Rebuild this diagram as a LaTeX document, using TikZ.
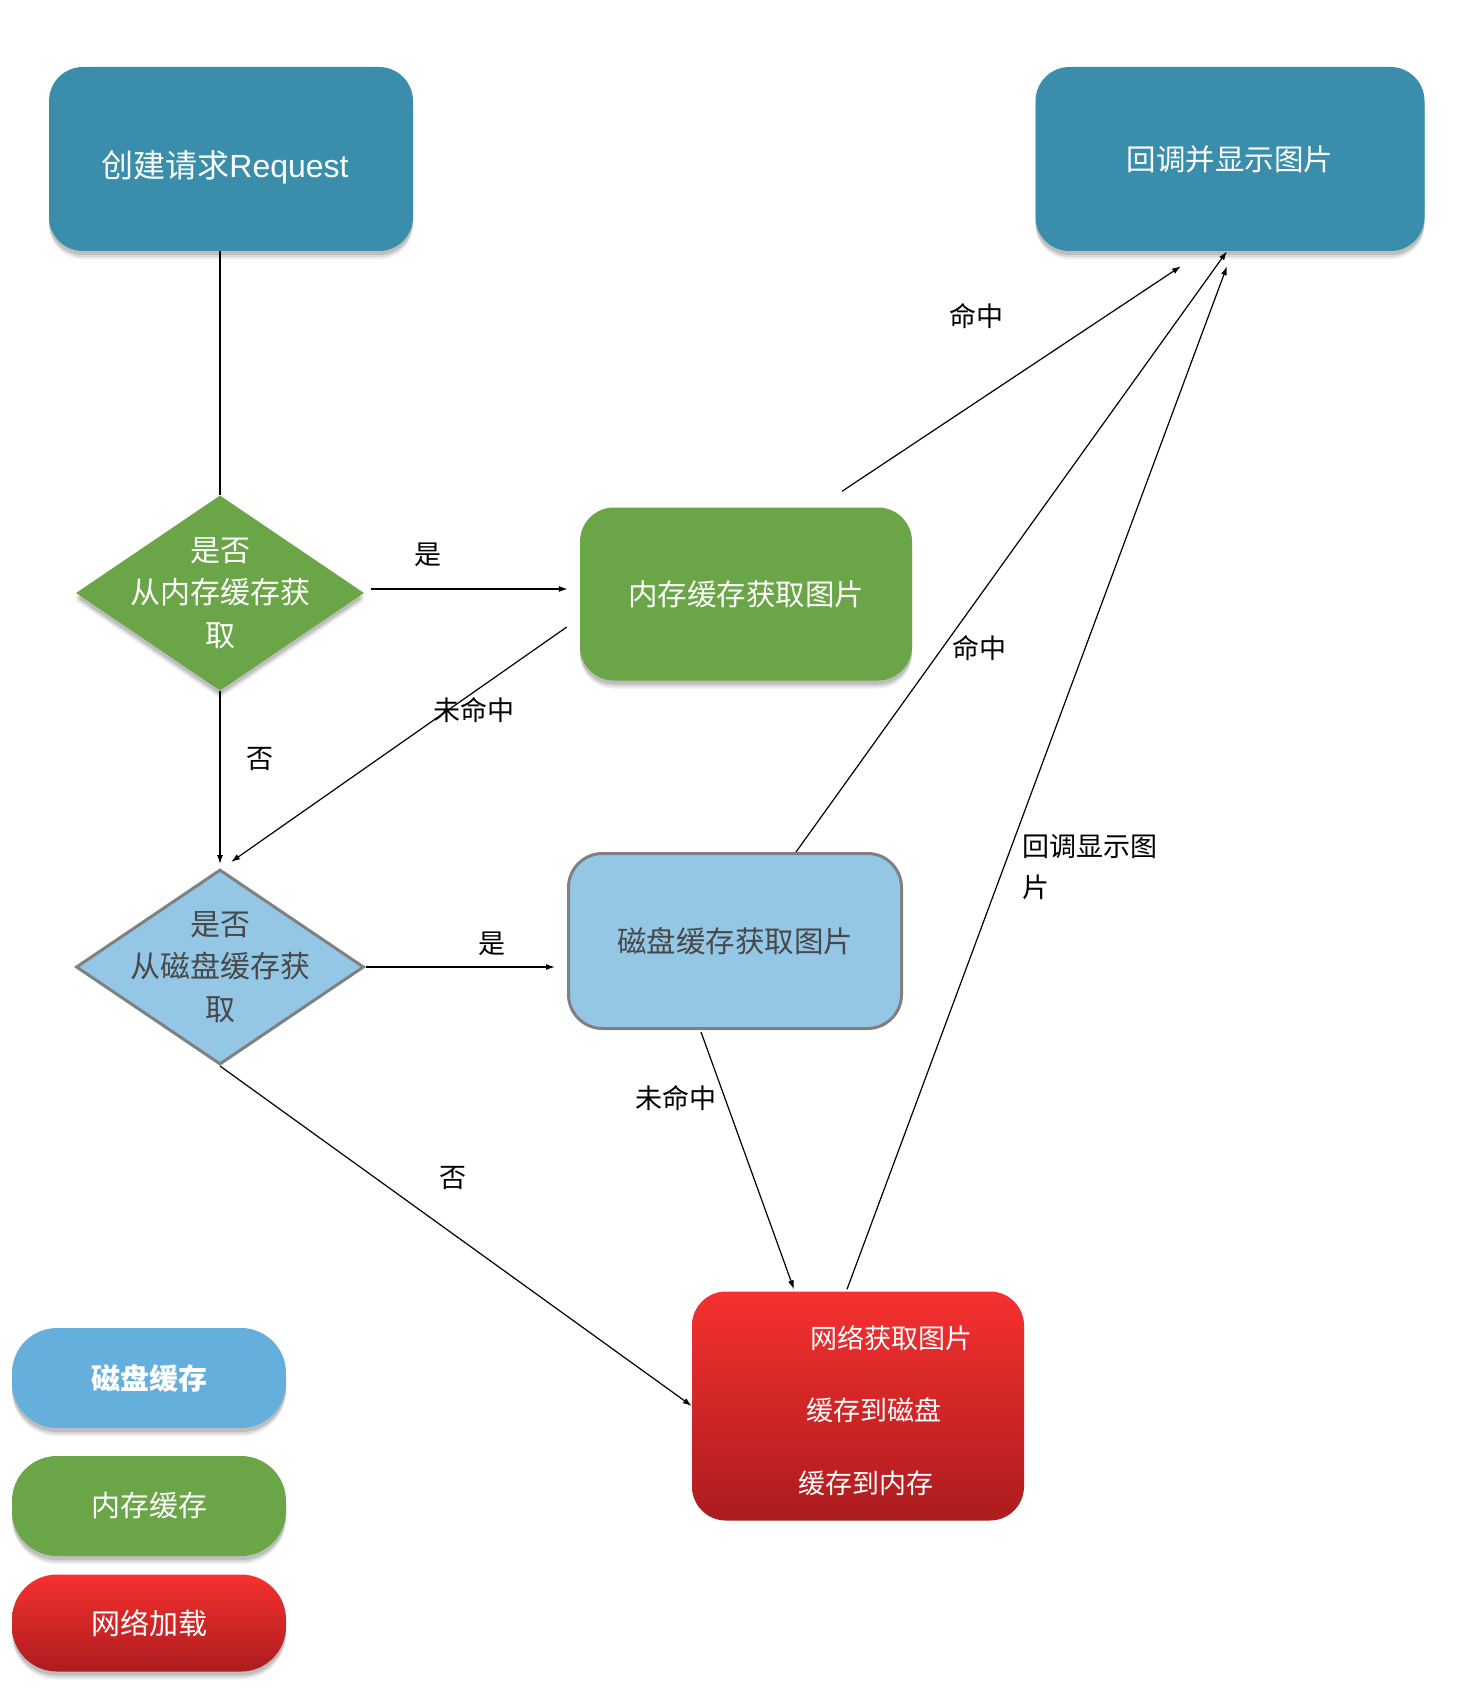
\documentclass[tikz,border=0pt]{standalone}
\usepackage{fontspec}
\setmainfont{Noto Sans CJK SC}
\newfontfamily\latinsans{Liberation Sans}
\usepackage{xcolor}
\usepackage{tikz}
\usetikzlibrary{positioning,arrows.meta,calc,shapes.geometric,shadows}
\definecolor{cbteal}{RGB}{58,142,172}
\definecolor{memgreen}{RGB}{106,165,71}
\definecolor{diskblue}{RGB}{148,199,230}
\definecolor{legblue}{RGB}{100,175,220}
\definecolor{netred}{RGB}{246,48,48}
\definecolor{netdark}{RGB}{172,28,30}
\definecolor{rimgray}{RGB}{128,128,128}
\definecolor{inkgray}{RGB}{72,72,72}
\tikzset{
  softshadow/.style={
    drop shadow={shadow xshift=0pt, shadow yshift=-8pt, fill=black, opacity=0.07},
    drop shadow={shadow xshift=0pt, shadow yshift=-6pt, fill=black, opacity=0.09},
    drop shadow={shadow xshift=0pt, shadow yshift=-4pt, fill=black, opacity=0.12}},
  box/.style={rectangle, rounded corners=34pt, inner sep=0pt, text=white,
              font=\fontsize{29.5}{36}\selectfont},
  tealbox/.style={box, fill=cbteal, softshadow},
  greenbox/.style={box, fill=memgreen, softshadow},
  bluebox/.style={box, fill=diskblue, draw=rimgray, line width=3pt, text=inkgray},
  redbox/.style={box, top color=netred, bottom color=netdark},
  ask/.style={diamond, inner sep=0pt, minimum width=288pt, minimum height=195pt},
  askmem/.style={ask, fill=memgreen, softshadow},
  askdisk/.style={ask, fill=diskblue, draw=rimgray, line width=3pt},
  asktext/.style={font=\fontsize{30}{42.5}\selectfont, align=center, inner sep=0pt},
  legend/.style={box, rounded corners=45pt, minimum width=274pt,
                 font=\fontsize{29}{36}\selectfont},
  nettext/.style={font=\fontsize{27}{32}\selectfont, text=white, inner sep=0pt},
  lbl/.style={font=\fontsize{27}{41}\selectfont, inner sep=0pt},
  wire/.style={line width=1.2pt, black},
  edge/.style={wire, -{Latex[length=9pt,width=6pt]}}
}

\begin{document}
\begin{tikzpicture}[x=1pt, y=-1pt]
        \useasboundingbox (0,0) rectangle (1468,1688);
        \node[tealbox, minimum width=364pt, minimum height=184pt,
              label={[text=white, font=\fontsize{32}{38}\selectfont, xshift=-6pt, yshift=-8pt]center:创建请求{\latinsans Request}}] (req) at (231,159) {};
        \node[tealbox, minimum width=389pt, minimum height=184pt] (cb) at (1230,159) {回调并显示图片};
        \node[askmem, label={[asktext, text=white]center:是否\\从内存缓存获\\取}] (dmem) at (220,593) {};
        \node[greenbox, minimum width=332pt, minimum height=173pt] (mem) at (746,594) {内存缓存获取图片};
        \node[askdisk, label={[asktext, text=inkgray]center:是否\\从磁盘缓存获\\取}] (ddisk) at (220,967) {};
        \node[bluebox, minimum width=333pt, minimum height=175pt] (disk) at (735,941) {磁盘缓存获取图片};
        \node[redbox, minimum width=332pt, minimum height=229pt] (net) at (858,1406) {};
        \node[nettext] (fetch) at (891,1338) {网络获取图片};
        \node[nettext] (todisk) at (874,1410) {缓存到磁盘};
        \node[nettext] (tomem) at (866,1483) {缓存到内存};

        \node[legend, fill=legblue, softshadow, minimum height=100pt] (kdisk) at (149,1378) {\bfseries 磁盘缓存};
        \node[legend, fill=memgreen, softshadow, minimum height=100pt] (kmem) at (149,1506) {内存缓存};
        \node[legend, top color=netred, bottom color=netdark, softshadow, minimum height=97pt] (knet) at (149,1623) {网络加载};

        \draw[wire] (req.south -| dmem.north) -- (dmem.north);
        \draw[edge] ($(dmem.east)+(7,-4)$) -- ($(mem.west)+(-12,-5)$);
        \draw[edge, shorten >=4pt] (dmem.south) -- (ddisk.north);
        \draw[edge] ($(mem.west)+(-13,33)$) -- ($(ddisk.north)+(11,-6)$);
        \draw[edge, shorten >=12pt] (ddisk.east) -- (ddisk.east -| disk.west);
        \draw[edge] ($(mem.north)+(96,-16)$) -- ($(cb.south)+(-49,15)$);
        \draw[edge] ($(disk.north)+(61,0)$) -- ($(cb.south)+(-3,0)$);
        \draw[edge] ($(net.north)+(-11,-2)$) -- ($(cb.south)+(-3,15)$);
        \draw[edge] ($(disk.south)+(-34,2)$) -- ($(net.north)+(-64,-2)$);
        \draw[edge] (ddisk.south) -- (net.west);

        \node[lbl] (yes1) at (428,555) {是};
        \node[lbl] (no1) at (260,759) {否};
        \node[lbl] (miss1) at (474,710) {未命中};
        \node[lbl] (yes2) at (492,944) {是};
        \node[lbl] (hit1) at (976,316) {命中};
        \node[lbl] (hit2) at (979,648) {命中};
        \node[lbl, align=left, anchor=west] (back) at (1022,867) {回调显示图\\片};
        \node[lbl] (miss2) at (676,1098) {未命中};
        \node[lbl] (no2) at (453,1178) {否};
      \end{tikzpicture}
\end{document}
